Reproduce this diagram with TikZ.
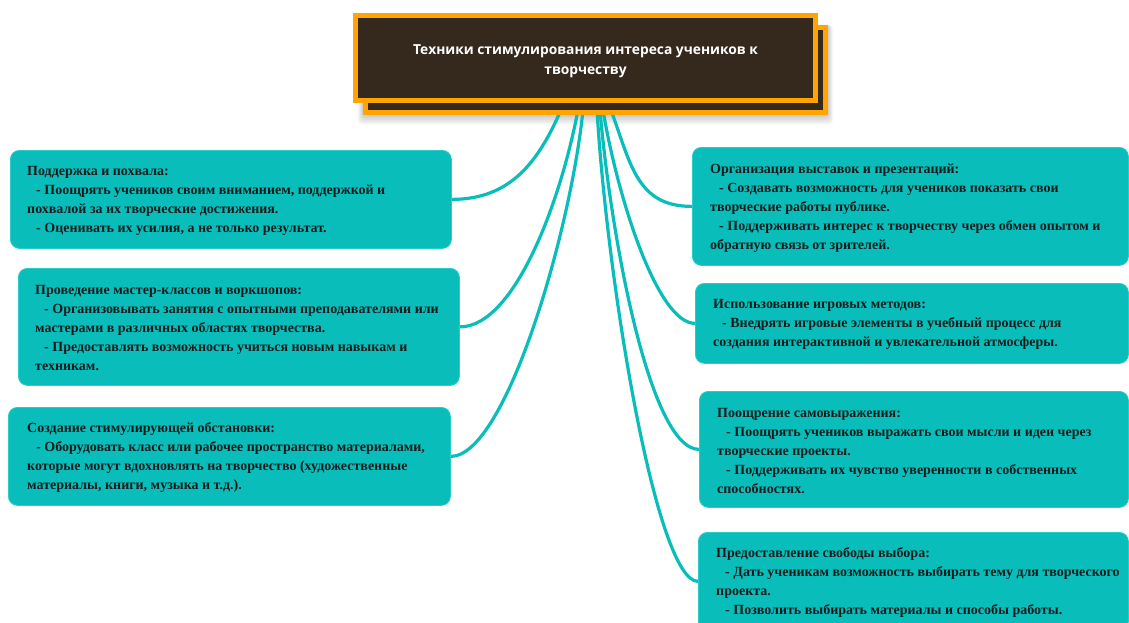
\documentclass[tikz,border=0pt]{standalone}
\usepackage{fontspec}
\usetikzlibrary{calc}
\setmainfont{Liberation Serif}
\newfontfamily\titlefont{Open Sans}
\definecolor{tealbox}{RGB}{9,190,186}
\definecolor{tealedge}{RGB}{40,205,200}
\definecolor{orng}{RGB}{255,164,0}
\definecolor{darkbrown}{RGB}{53,40,28}
\definecolor{txtcol}{RGB}{22,28,28}
\pgfdeclarelayer{bg}
\pgfsetlayers{bg,main}
\newcommand\myind{\hspace*{9pt}}
\begin{document}
\begin{tikzpicture}[x=1pt,y=1pt,
  box/.style={rounded corners=9pt, fill=tealbox, draw=tealedge, line width=0.8pt,
              anchor=north west, inner sep=0pt},
  boxtext/.style={anchor=west, align=left, inner sep=0pt, text=txtcol, yshift=-1.5pt,
              font=\fontsize{14}{19}\selectfont\bfseries},
  conn/.style={draw=tealbox, line width=3.2pt},
  tframe/.style={draw=orng, line width=5pt, fill=darkbrown, minimum width=460pt,
              minimum height=85pt, inner sep=0pt},
]
\useasboundingbox (0,0) rectangle (1129,-623);
\clip (0,0) rectangle (1129,-623);

% title
\node[tframe] (tb) at (595.5,-70) {};
\node[tframe] (t) at (585.5,-58) {};
\node[text=white, align=center, inner sep=0pt,
      font=\titlefont\fontsize{13.8}{20}\selectfont\bfseries] (tt) at ([yshift=-3pt]t.center)
  {Техники стимулирования интереса учеников к\\творчеству};

% left boxes
\node[box, minimum width=441pt, minimum height=98pt] (b1) at (10,-150) {};
\node[boxtext] (b1t) at ([xshift=17pt]b1.west)
  {Поддержка и похвала:\\\myind- Поощрять учеников своим вниманием, поддержкой и\\похвалой за их творческие достижения.\\\myind- Оценивать их усилия, а не только результат.};

\node[box, minimum width=441pt, minimum height=117pt] (b2) at (18,-268) {};
\node[boxtext] (b2t) at ([xshift=17pt]b2.west)
  {Проведение мастер-классов и воркшопов:\\\myind- Организовывать занятия с опытными преподавателями или\\мастерами в различных областях творчества.\\\myind- Предоставлять возможность учиться новым навыкам и\\техникам.};

\node[box, minimum width=442pt, minimum height=98pt] (b3) at (8,-407) {};
\node[boxtext] (b3t) at ([xshift=19pt]b3.west)
  {Создание стимулирующей обстановки:\\\myind- Оборудовать класс или рабочее пространство материалами,\\которые могут вдохновлять на творчество (художественные\\материалы, книги, музыка и т.д.).};

% right boxes
\node[box, minimum width=436pt, minimum height=118pt] (r1) at (692,-147) {};
\node[boxtext] (r1t) at ([xshift=18pt]r1.west)
  {Организация выставок и презентаций:\\\myind- Создавать возможность для учеников показать свои\\творческие работы публике.\\\myind- Поддерживать интерес к творчеству через обмен опытом и\\обратную связь от зрителей.};

\node[box, minimum width=433pt, minimum height=80pt] (r2) at (695,-283) {};
\node[boxtext] (r2t) at ([xshift=18pt]r2.west)
  {Использование игровых методов:\\\myind- Внедрять игровые элементы в учебный процесс для\\создания интерактивной и увлекательной атмосферы.};

\node[box, minimum width=429pt, minimum height=116pt] (r3) at (699,-391) {};
\node[boxtext] (r3t) at ([xshift=18pt]r3.west)
  {Поощрение самовыражения:\\\myind- Поощрять учеников выражать свои мысли и идеи через\\творческие проекты.\\\myind- Поддерживать их чувство уверенности в собственных\\способностях.};

\node[box, minimum width=430pt, minimum height=98pt] (r4) at (698,-532) {};
\node[boxtext] (r4t) at ([xshift=18pt]r4.west)
  {Предоставление свободы выбора:\\\myind- Дать ученикам возможность выбирать тему для творческого\\проекта.\\\myind- Позволить выбирать материалы и способы работы.};

% connector start points under the title
\coordinate (s1) at (561,-110);
\coordinate (s2) at (578,-110);
\coordinate (s3) at (583,-110);
\coordinate (s4) at (597,-110);
\coordinate (s5) at (600,-110);
\coordinate (s6) at (603,-110);
\coordinate (s7) at (611,-110);

\begin{pgfonlayer}{bg}
  % soft shadow of the title
  \foreach \i in {1,...,6}{
    \fill[black, opacity=0.035, rounded corners=4pt]
      ($(tb.south west)+(-\i*0.8,-\i*1.6)$) rectangle ($(tb.north east)+(\i*0.8,0)$);
  }
  \draw[conn] (s1) .. controls +(-22,-50) and +(60,0) .. (b1.east);
  \draw[conn] (s2) .. controls +(-17,-90) and +(55,0) .. (b2.east);
  \draw[conn] (s3) .. controls +(-12,-120) and +(55,0) .. (b3.east);
  \draw[conn] (s4) .. controls +(10,-170) and +(-42,0) .. (r4.west);
  \draw[conn] (s5) .. controls +(10,-120) and +(-50,0) .. (r3.west);
  \draw[conn] (s6) .. controls +(14,-85) and +(-38,0) .. (r2.west);
  \draw[conn] (s7) .. controls +(20,-55) and +(-55,0) .. (r1.west);
\end{pgfonlayer}
\end{tikzpicture}
\end{document}
